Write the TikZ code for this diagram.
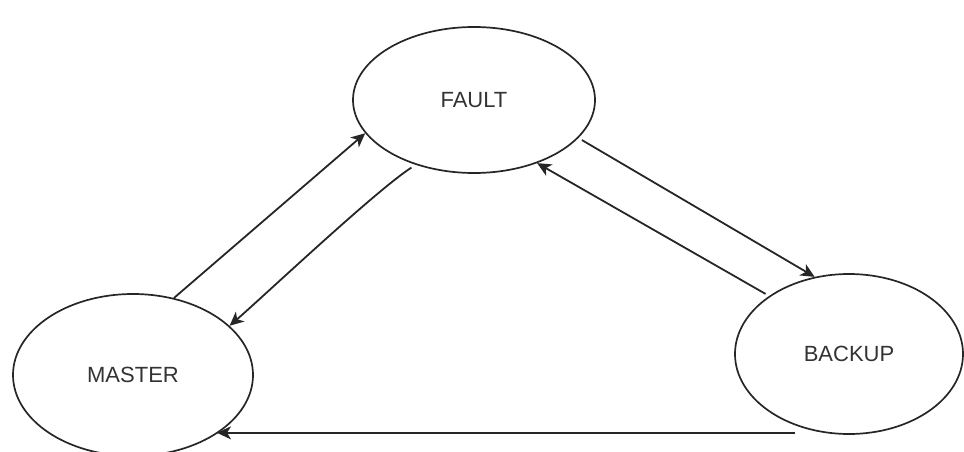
\documentclass[tikz,border=0pt]{standalone}
\usepackage{fontspec}
\setmainfont{Liberation Sans}
\usetikzlibrary{arrows.meta, shapes.geometric, positioning, calc}
\begin{document}
\begin{tikzpicture}[x=1pt, y=-1pt,
    state/.style={ellipse, draw=black!85, line width=1.7pt, inner sep=0pt,
      font=\fontsize{22}{26}\selectfont, text=black!80},
    flow/.style={-{Stealth[length=14pt, width=13pt, inset=4pt]}, line width=1.8pt, draw=black!85}]
  \useasboundingbox (0,0) rectangle (964,452);

  % states
  \node[state, minimum width=242pt, minimum height=146pt] (fault) at (474,100) {FAULT};
  \node[state, minimum width=240pt, minimum height=162pt] (master) at (133,375) {MASTER};
  \node[state, minimum width=228pt, minimum height=160pt] (backup) at (849,354) {BACKUP};
  \coordinate (bstart) at ([shift={(-54pt,2pt)}]backup.south);

  % transitions
  \draw[flow] (master.62) -- (fault.197);
  \draw[flow, shorten <=5pt] (fault.228) to[out=213, in=41, looseness=0.5] (master.27);
  \draw[flow, shorten <=4pt] (fault.340) -- (backup.114);
  \draw[flow, shorten <=4pt] (backup.144) -- (fault.315);
  \draw[flow] (bstart) -- (master.325 |- bstart);
\end{tikzpicture}
\end{document}
